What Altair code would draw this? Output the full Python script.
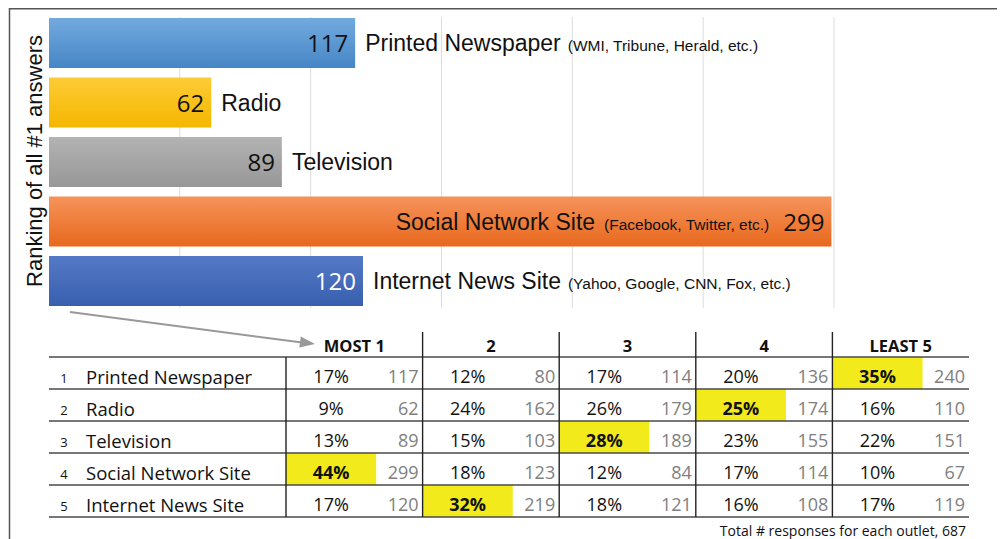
import math
import altair as alt
import pandas as pd

# ---------------- data ----------------
outlets = ["Printed Newspaper", "Radio", "Television", "Social Network Site", "Internet News Site"]
examples = ["(WMI, Tribune, Herald, etc.)", "", "", "(Facebook, Twitter, etc.)", "(Yahoo, Google, CNN, Fox, etc.)"]
first_counts = [117, 62, 89, 299, 120]
rank_labels = ["MOST  1", "2", "3", "4", "LEAST  5"]
pct_row1 = [17, 12, 17, 20, 35]
pct_row2 = [9, 24, 26, 25, 16]
pct_row3 = [13, 15, 28, 23, 22]
pct_row4 = [44, 18, 12, 17, 10]
pct_row5 = [17, 32, 18, 16, 17]
cnt_row1 = [117, 80, 114, 136, 240]
cnt_row2 = [62, 162, 179, 174, 110]
cnt_row3 = [89, 103, 189, 155, 151]
cnt_row4 = [299, 123, 84, 114, 67]
cnt_row5 = [120, 219, 121, 108, 119]
total_responses = 687
bar_title = "Ranking of all #1 answers"

# ---------------- styles ----------------
W, H = 989, 531
OFF = 8  # page margin


def px(v):
    return v - OFF


def py(v):
    return v - OFF


bar_grads = [("#72aade", "#4686c6"), ("#fdcb35", "#f4b700"), ("#b3b3b3", "#979797"),
             ("#f6935a", "#e8681d"), ("#5479c6", "#385fae")]
LABEL_FONT = "Liberation Sans"
TABLE_FONT = "Open Sans"

# Arial / Liberation Sans advance widths (per 1000 em)
AW = {' ': 278, '(': 333, ')': 333, ',': 278, '.': 278, '#': 556}
AW.update({d: 556 for d in "0123456789"})
AW.update(dict(zip("ABCDEFGHIJKLMNOPQRSTUVWXYZ",
                   [667, 667, 722, 722, 667, 611, 778, 722, 278, 500, 667, 556, 833, 722, 778, 667, 778,
                    722, 667, 611, 722, 667, 944, 667, 667, 611])))
AW.update(dict(zip("abcdefghijklmnopqrstuvwxyz",
                   [556, 556, 500, 556, 556, 278, 556, 556, 222, 222, 500, 222, 833, 556, 556, 556, 556,
                    333, 500, 278, 556, 500, 722, 500, 500, 500])))


def tw(s, size):
    return sum(AW.get(c, 556) for c in s) * size / 1000.0


MAIN_SIZE, SUB_SIZE, NUM_SIZE = 23, 15.5, 24

bar_df = pd.DataFrame({"outlet": outlets, "count": first_counts, "example": examples})
xs = alt.Scale(domain=[0, 300], range=[px(49), px(834)])
ys = alt.Scale(domain=outlets, range=[py(13.3), py(310.8)], paddingInner=0.16, paddingOuter=0.08)
X = alt.X("count:Q", scale=xs, axis=None)
Y = alt.Y("outlet:N", scale=ys, axis=None, sort=outlets)

layers = []

# frame
layers.append(alt.Chart(pd.DataFrame({"a": [0]})).mark_rule(color="#555555", strokeWidth=1.5).encode(
    x=alt.value(px(9.5)), y=alt.value(0), y2=alt.value(H)))
layers.append(alt.Chart(pd.DataFrame({"a": [0]})).mark_rule(color="#555555", strokeWidth=1.5).encode(
    x=alt.value(px(9.5)), x2=alt.value(W), y=alt.value(0.75)))

# gridlines
grid_df = pd.DataFrame({"g": [50, 100, 150, 200, 250, 300]})
layers.append(alt.Chart(grid_df).mark_rule(color="#dcdcdc", strokeWidth=1).encode(
    x=alt.X("g:Q", scale=xs, axis=None), y=alt.value(py(17)), y2=alt.value(py(308))))

# bars
for name, (c1, c2) in zip(outlets, bar_grads):
    grad = {"gradient": "linear", "x1": 0, "x2": 0, "y1": 0, "y2": 1,
            "stops": [{"offset": 0, "color": c1}, {"offset": 1, "color": c2}]}
    layers.append(alt.Chart(bar_df).transform_filter(alt.datum.outlet == name).mark_bar(
        color=grad).encode(x=X, y=Y))

# value numbers inside bars
layers.append(alt.Chart(bar_df).mark_text(align="right", baseline="alphabetic", dx=-7, dy=9,
                                          font=TABLE_FONT, fontSize=NUM_SIZE).encode(
    x=X, y=Y, text="count:Q",
    color=alt.condition(alt.datum.outlet == "Internet News Site", alt.value("white"), alt.value("#111111"))))

# labels
for name, ex, cnt in zip(outlets, examples, first_counts):
    sub = alt.Chart(bar_df).transform_filter(alt.datum.outlet == name)
    if cnt > 250:
        num_w = len(str(cnt)) * 0.5718 * NUM_SIZE
        sub_dx = -(7 + num_w + 14)
        main_dx = sub_dx - tw(ex, SUB_SIZE) - 7
        layers.append(sub.mark_text(align="right", baseline="alphabetic", dx=sub_dx, dy=8,
                                    font=LABEL_FONT, fontSize=SUB_SIZE, color="#111111").encode(
            x=X, y=Y, text="example:N"))
        layers.append(sub.mark_text(align="right", baseline="alphabetic", dx=main_dx, dy=8,
                                    font=LABEL_FONT, fontSize=MAIN_SIZE, color="#111111").encode(
            x=X, y=Y, text="outlet:N"))
    else:
        layers.append(sub.mark_text(align="left", baseline="alphabetic", dx=10, dy=8,
                                    font=LABEL_FONT, fontSize=MAIN_SIZE, color="#111111").encode(
            x=X, y=Y, text="outlet:N"))
        if ex:
            layers.append(sub.mark_text(align="left", baseline="alphabetic",
                                        dx=10 + tw(name, MAIN_SIZE) + 7, dy=8,
                                        font=LABEL_FONT, fontSize=SUB_SIZE, color="#111111").encode(
                x=X, y=Y, text="example:N"))

# y title
layers.append(alt.Chart(pd.DataFrame({"t": [bar_title]})).mark_text(
    angle=270, align="center", baseline="middle", font=LABEL_FONT, fontSize=22, color="#111111").encode(
    x=alt.value(px(35)), y=alt.value(py(161)), text="t:N"))

# arrow
layers.append(alt.Chart(pd.DataFrame({"a": [0]})).mark_rule(color="#999999", strokeWidth=2).encode(
    x=alt.value(px(70)), y=alt.value(py(312)), x2=alt.value(px(302)), y2=alt.value(py(342.6))))
layers.append(alt.Chart(pd.DataFrame({"a": [0]})).mark_point(
    shape="M1,0L-1,-0.75L-1,0.75Z", filled=True, color="#999999", opacity=1, size=225,
    angle=math.degrees(math.atan2(31, 240))).encode(x=alt.value(px(307.5)), y=alt.value(py(343))))

# ---------------- table ----------------
pcts = [pct_row1, pct_row2, pct_row3, pct_row4, pct_row5]
cnts = [cnt_row1, cnt_row2, cnt_row3, cnt_row4, cnt_row5]
rows = []
for ri, name in enumerate(outlets):
    for ci in range(5):
        colmax = max(p[ci] for p in pcts)
        rows.append({"outlet": name, "ri": ri, "col": ci + 1, "pct": pcts[ri][ci],
                     "cnt": cnts[ri][ci], "hl": pcts[ri][ci] == colmax})
cell_df = pd.DataFrame(rows)
cell_df["pct_txt"] = cell_df["pct"].astype(str) + "%"

txs = alt.Scale(domain=[0, 5], range=[px(286), px(969)])
tys = alt.Scale(domain=[0, 5], range=[py(357), py(517)])

# highlight cells
layers.append(alt.Chart(cell_df).transform_filter(alt.datum.hl).transform_calculate(
    x0="datum.col - 1", x1="datum.col - 0.34", y0="datum.ri", y1="datum.ri + 1").mark_rect(
    color="#f2ea1b").encode(
    x=alt.X("x0:Q", scale=txs, axis=None), x2="x1:Q",
    y=alt.Y("y0:Q", scale=tys, axis=None), y2="y1:Q"))

# grid lines
hl_df = pd.DataFrame({"b": [0, 1, 2, 3, 4, 5]})
layers.append(alt.Chart(hl_df).mark_rule(color="#4a4a4a", strokeWidth=1.6).encode(
    y=alt.Y("b:Q", scale=tys, axis=None), x=alt.value(px(49)), x2=alt.value(px(969))))
vl_df = pd.DataFrame({"b": [1, 2, 3, 4]})
layers.append(alt.Chart(vl_df).mark_rule(color="#222222", strokeWidth=1.4).encode(
    x=alt.X("b:Q", scale=txs, axis=None), y=alt.value(py(332)), y2=alt.value(py(517))))
layers.append(alt.Chart(pd.DataFrame({"b": [0]})).mark_rule(color="#222222", strokeWidth=1.4).encode(
    x=alt.X("b:Q", scale=txs, axis=None), y=alt.value(py(357)), y2=alt.value(py(517))))

# header
hdr_df = pd.DataFrame({"col": [1, 2, 3, 4, 5], "lab": rank_labels})
layers.append(alt.Chart(hdr_df).transform_calculate(xc="datum.col - 0.5").mark_text(
    align="center", baseline="middle", dy=1, font=TABLE_FONT, fontSize=16.5, fontWeight="bold",
    color="#111111").encode(x=alt.X("xc:Q", scale=txs, axis=None), y=alt.value(py(346)), text="lab:N"))

# percent texts
for bold in (False, True):
    layers.append(alt.Chart(cell_df).transform_filter(alt.datum.hl == bold).transform_calculate(
        xc="datum.col - 0.67", yc="datum.ri + 0.5").mark_text(
        align="center", baseline="middle", dy=5, font=TABLE_FONT, fontSize=18,
        fontWeight="bold" if bold else "normal", color="#111111").encode(
        x=alt.X("xc:Q", scale=txs, axis=None), y=alt.Y("yc:Q", scale=tys, axis=None), text="pct_txt:N"))

# count texts
layers.append(alt.Chart(cell_df).transform_calculate(yc="datum.ri + 0.5").mark_text(
    align="right", baseline="middle", dx=-4, dy=5, font=TABLE_FONT, fontSize=18, color="#808080").encode(
    x=alt.X("col:Q", scale=txs, axis=None), y=alt.Y("yc:Q", scale=tys, axis=None), text="cnt:Q"))

# row labels
row_df = pd.DataFrame({"ri": list(range(5)), "num": [str(i + 1) for i in range(5)], "outlet": outlets})
layers.append(alt.Chart(row_df).transform_calculate(yc="datum.ri + 0.5").mark_text(
    align="center", baseline="middle", dy=6, font=TABLE_FONT, fontSize=13, color="#111111").encode(
    x=alt.value(px(64)), y=alt.Y("yc:Q", scale=tys, axis=None), text="num:N"))
layers.append(alt.Chart(row_df).transform_calculate(yc="datum.ri + 0.5").mark_text(
    align="left", baseline="middle", dy=5, font=TABLE_FONT, fontSize=18.5, color="#111111").encode(
    x=alt.value(px(86)), y=alt.Y("yc:Q", scale=tys, axis=None), text="outlet:N"))

# footer
layers.append(alt.Chart(pd.DataFrame({"t": ["Total # responses for each outlet, %d" % total_responses]})).mark_text(
    align="right", baseline="middle", font=TABLE_FONT, fontSize=14, color="#111111").encode(
    x=alt.value(px(966)), y=alt.value(py(531.5)), text="t:N"))

chart = alt.layer(*layers).resolve_scale(x="independent", y="independent").properties(
    width=W, height=H, padding=0, autosize=alt.AutoSizeParams(type="none")
).configure_view(stroke=None)

chart.save("out.html", embed_options={"renderer": "svg", "actions": False})
